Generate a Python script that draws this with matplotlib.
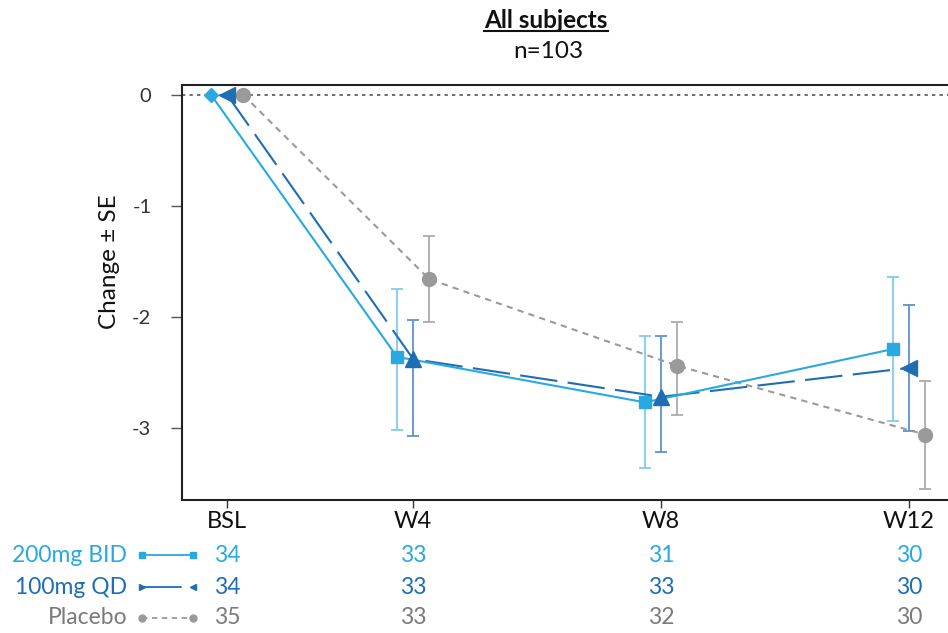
import matplotlib
matplotlib.use("Agg")
import matplotlib.pyplot as plt
from matplotlib.lines import Line2D
import matplotlib.transforms as mtransforms
import numpy as np

plt.rcParams['font.family'] = ['Lato', 'DejaVu Sans']

# ---- data ----
visits = ["BSL", "W4", "W8", "W12"]
weeks = [1, 4, 8, 12]
series_names = ["200mg BID", "100mg QD", "Placebo"]

bid200_mean = [0.0, -2.36, -2.77, -2.29]
bid200_hi = [0.0, -1.75, -2.17, -1.64]
bid200_lo = [0.0, -3.02, -3.36, -2.94]

qd100_mean = [0.0, -2.38, -2.72, -2.46]
qd100_hi = [0.0, -2.03, -2.17, -1.89]
qd100_lo = [0.0, -3.07, -3.22, -3.03]

pbo_mean = [0.0, -1.66, -2.44, -3.06]
pbo_hi = [0.0, -1.27, -2.05, -2.58]
pbo_lo = [0.0, -2.05, -2.88, -3.55]

n_bid200 = [34, 33, 31, 30]
n_qd100 = [34, 33, 33, 30]
n_pbo = [35, 33, 32, 30]

c_bid = "#29A9E1"
c_bid_err = "#7FCBEF"
c_qd = "#1F6DB2"
c_qd_err = "#5E93CC"
c_pbo = "#9A9A9A"
c_pbo_err = "#ABABAB"
c_pbo_txt = "#7A7A7A"

fig = plt.figure(figsize=(9.48, 6.33), dpi=100)
ax = fig.add_axes([182/948, 1-500/633, 1-182/948, (500-85)/633])

off = 0.26
x_bid = np.array(weeks) - off
x_qd = np.array(weeks) + 0.0
x_pbo = np.array(weeks) + off

def errs(mean, hi, lo):
    mean = np.array(mean); hi = np.array(hi); lo = np.array(lo)
    return np.vstack([mean - lo, hi - mean])

# zero reference
ax.axhline(0, color="#555555", lw=1.2, ls=(0, (2, 2.5)), zorder=1)

# error bars
for xs, m, h, l, c in [(x_bid, bid200_mean, bid200_hi, bid200_lo, c_bid_err),
                       (x_qd, qd100_mean, qd100_hi, qd100_lo, c_qd_err),
                       (x_pbo, pbo_mean, pbo_hi, pbo_lo, c_pbo_err)]:
    e = errs(m, h, l)
    ax.errorbar(xs[1:], np.array(m)[1:], yerr=e[:, 1:], fmt="none", ecolor=c,
                elinewidth=1.3, capsize=4, capthick=1.3, zorder=2)

# lines
ax.plot(x_pbo, pbo_mean, color=c_pbo, lw=1.5, ls=(0, (3, 2.5)), zorder=3)
ax.plot(x_qd, qd100_mean, color=c_qd, lw=1.5, ls=(0, (18, 5)), zorder=3)
ax.plot(x_bid, bid200_mean, color=c_bid, lw=1.5, zorder=4)

# markers
ax.plot(x_pbo, pbo_mean, "o", color=c_pbo, ms=10, zorder=5, ls="none")
qd_markers = ["<", "^", "^", "<"]
for xi, yi, mk in zip(x_qd, qd100_mean, qd_markers):
    ax.plot([xi], [yi], marker=mk, color=c_qd, ms=11, zorder=5, ls="none")
bid_markers = ["D", "s", "s", "s"]
for xi, yi, mk in zip(x_bid, bid200_mean, bid_markers):
    ax.plot([xi], [yi], marker=mk, color=c_bid, ms=8 if mk == "s" else 7, zorder=6, ls="none")

ax.set_xlim(0.27, 12.63)
ax.set_ylim(-3.65, 0.09)
ax.set_xticks(weeks)
ax.set_xticklabels(visits, fontsize=17, color="#111111")
ax.set_yticks([0, -1, -2, -3])
ax.set_yticklabels(["0", "-1", "-2", "-3"], fontsize=14.5, color="#333333")
ax.tick_params(axis="y", length=8, width=1, color="#555555", pad=14)
ax.tick_params(axis="x", length=6, width=1, color="#333333", pad=2)
for s in ["left", "bottom", "top"]:
    ax.spines[s].set_linewidth(1.5)
    ax.spines[s].set_color("#222222")
ax.spines["right"].set_visible(False)

fig.text(110/948, 1-262/633, "Change ± SE", rotation=90, ha="center", va="center",
         fontsize=17.5, color="#111111")

# title
t = fig.text(546/948, 1-21/633, "All subjects", ha="center", va="center",
             fontsize=17.5, fontweight="bold", color="#111111")
fig.canvas.draw()
bb = t.get_window_extent()
inv = fig.transFigure.inverted()
(x0, y0), (x1, y1) = inv.transform([(bb.x0, bb.y0), (bb.x1, bb.y1)])
fig.add_artist(Line2D([x0, x1], [y0 + 0.002, y0 + 0.002], color="#111111", lw=1.5,
                      transform=fig.transFigure))
fig.text(548/948, 1-51/633, "n=103", ha="center", va="center", fontsize=17.5, color="#111111")

# bottom table
trans = mtransforms.blended_transform_factory(ax.transData, fig.transFigure)
rows = [("200mg BID", n_bid200, c_bid, c_bid, "s", "s", "-", 555),
        ("100mg QD", n_qd100, c_qd, c_qd, ">", "<", (0, (22, 10)), 587),
        ("Placebo", n_pbo, c_pbo_txt, c_pbo, "o", "o", (0, (3, 2.5)), 618)]
for name, ns, tc, lc, m1, m2, ls, ypix in rows:
    yf = 1 - ypix/633
    fig.text(127/948, yf, name, ha="right", va="center", fontsize=16.5, color=tc)
    fig.add_artist(Line2D([142/948, 193/948], [yf, yf], color=lc, lw=1.3, ls=ls,
                          transform=fig.transFigure))
    fig.add_artist(Line2D([142/948], [yf], marker=m1, color=lc, ms=5, ls="none",
                          transform=fig.transFigure))
    fig.add_artist(Line2D([193/948], [yf], marker=m2, color=lc, ms=5, ls="none",
                          transform=fig.transFigure))
    for w, n in zip(weeks, ns):
        fig.text(w, yf, str(n), ha="center", va="center", fontsize=16.5, color=tc,
                 transform=trans)

fig.savefig("out.png", dpi=100)
